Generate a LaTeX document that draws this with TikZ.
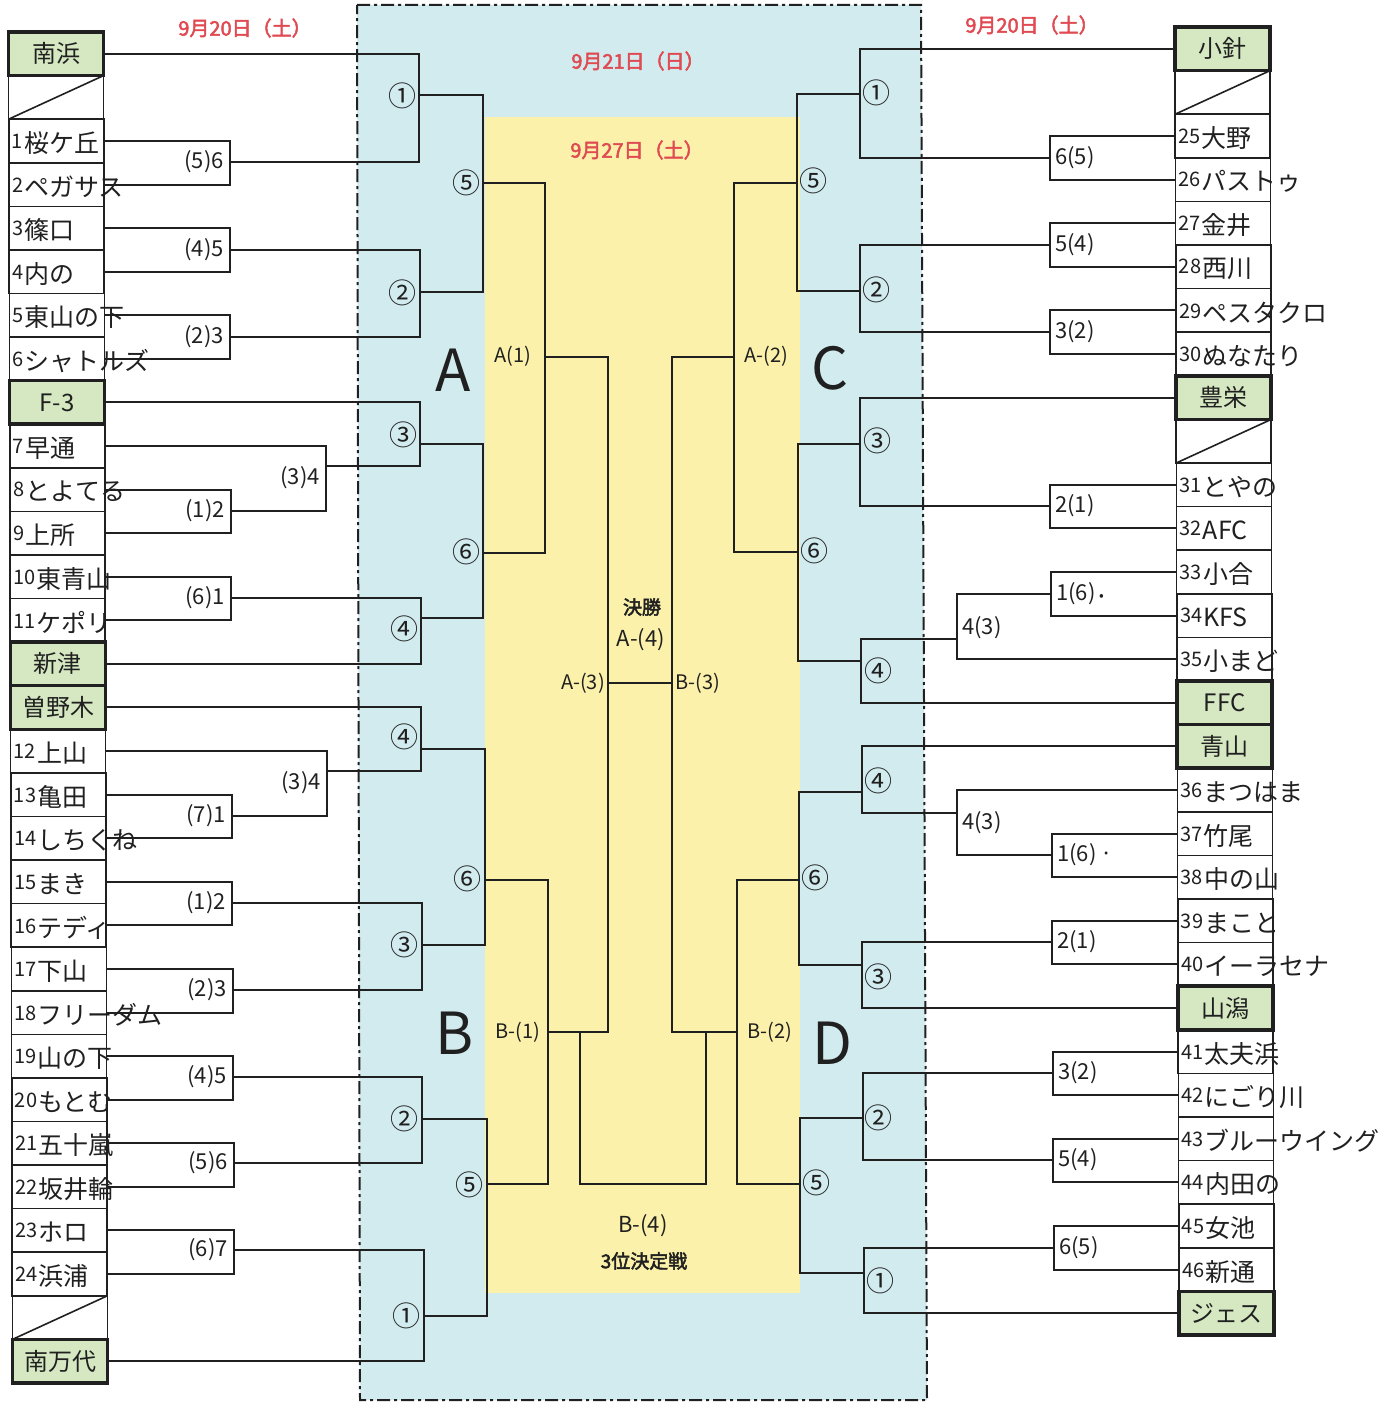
\documentclass[tikz,border=0pt]{standalone}
\usepackage{fontspec}
\usepackage{graphicx}
\setmainfont{Noto Sans CJK JP}
\newfontfamily\jpb[FakeBold=2.5]{Noto Sans CJK JP}
\usetikzlibrary{calc}
\definecolor{bluebg}{HTML}{D2EBEE}
\definecolor{yellowbg}{HTML}{FBF1AA}
\definecolor{greencell}{HTML}{D5E8C2}
\definecolor{datered}{HTML}{E04A52}
\definecolor{ink}{HTML}{202020}
\newcommand\fs[1]{\fontsize{#1}{#1}\selectfont}
\newcommand\tmn[2]{\raisebox{4pt}{\fs{20}#1}\hspace{1pt}{\fs{25}#2}}
\begin{document}
\begin{tikzpicture}[x=1pt,y=-1pt,
  brk/.style={draw=ink,line width=2pt},
  cellbox/.style={draw=ink,line width=1.6pt,minimum width=95pt,minimum height=43.6pt,inner sep=0pt,outer sep=0pt},
  greenbox/.style={cellbox,fill=greencell,line width=3.5pt,font=\fs{24},text=ink},
  circlab/.style={inner sep=0pt,font=\fs{28},text=ink},
  pairlab/.style={inner sep=0pt,font=\fs{22},text=ink},
  datelab/.style={inner sep=0pt,font=\jpb\fs{20},text=datered},
  biglab/.style={inner sep=0pt,font=\fs{58},text=ink},
  midlab/.style={inner sep=0pt,font=\fs{20},text=ink},
  hwlab/.style={inner sep=0pt,anchor=west,text=ink},
]
\useasboundingbox (0,0) rectangle (1399,1402);
% backgrounds
\fill[bluebg] (357,5) -- (921,5) -- (927,1400) -- (360,1400) -- cycle;
\draw[ink,line width=2pt,dash pattern=on 13pt off 4pt on 3pt off 4pt] (357,5) -- (921,5) -- (927,1400) -- (360,1400) -- cycle;
\fill[yellowbg] (485,117) rectangle (800,1293);

% dates
\node[datelab] (d20l) at (245,28) {9月20日（土）};
\node[datelab] (d20r) at (1032,25) {9月20日（土）};
\node[datelab] (d21) at (638,61) {9月21日（日）};
\node[datelab] (d27) at (637,150) {9月27日（土）};

% ---------- coordinates (left) ----------
\coordinate (pa1) at (230,162);
\coordinate (pa2) at (230,250);
\coordinate (pa3) at (230,337);
\coordinate (pa4) at (231,511);
\coordinate (qa1) at (326,466);
\coordinate (pa5) at (231,598);
\coordinate (ra1) at (419,95);
\coordinate (ra2) at (420,292);
\coordinate (ra3) at (420,444);
\coordinate (ra4) at (421,618);
\coordinate (sa5) at (483,183);
\coordinate (sa6) at (483,553);
\coordinate (tA) at (545,357);
\coordinate (pb1) at (232,816);
\coordinate (qb1) at (327,771);
\coordinate (rb4) at (421,749);
\coordinate (pb2) at (232,903);
\coordinate (pb3) at (233,990);
\coordinate (rb3) at (422,945);
\coordinate (sb6) at (485,880);
\coordinate (pb4) at (233,1077);
\coordinate (pb5) at (234,1163);
\coordinate (rb2) at (422,1119);
\coordinate (pb6) at (234,1250);
\coordinate (rb1) at (424,1316);
\coordinate (sb5) at (487,1184);
\coordinate (tB) at (548,1032);
% ---------- coordinates (right) ----------
\coordinate (pc1) at (1050,158);
\coordinate (pc2) at (1050,245);
\coordinate (pc3) at (1050,332);
\coordinate (pc4) at (1050,506);
\coordinate (pc5) at (1051,594);
\coordinate (qc1) at (957,639);
\coordinate (rc1) at (860,94);
\coordinate (rc2) at (860,291);
\coordinate (rc3) at (860,444);
\coordinate (rc4) at (861,661);
\coordinate (sc5) at (797,183);
\coordinate (sc6) at (798,552);
\coordinate (tC) at (734,357);
\coordinate (pd1) at (1052,855);
\coordinate (qd1) at (957,813);
\coordinate (rd4) at (862,792);
\coordinate (pd2) at (1052,942);
\coordinate (rd3) at (862,965);
\coordinate (sd6) at (799,880);
\coordinate (pd3) at (1053,1073);
\coordinate (pd4) at (1053,1160);
\coordinate (rd2) at (863,1118);
\coordinate (pd5) at (1054,1248);
\coordinate (rd1) at (864,1273);
\coordinate (sd5) at (800,1184);
\coordinate (tD) at (737,1032);
\coordinate (fL) at (608,683);
\coordinate (fR) at (672,683);
\coordinate (tp1) at (580,1032);
\coordinate (tp2) at (706,1032);
\coordinate (tpm) at (643,1184);

% ---------- cells ----------
\foreach \i in {0,...,30}{
  \pgfmathsetmacro\yy{32+43.58*(\i+0.5)}
  \pgfmathsetmacro\xx{56+4*\i/30}
  \node[cellbox] (L\i) at (\xx,\yy) {};
}
\foreach \i in {0,...,29}{
  \pgfmathsetmacro\yy{27+43.6*(\i+0.5)}
  \pgfmathsetmacro\xx{1222.5+4*\i/29}
  \node[cellbox] (R\i) at (\xx,\yy) {};
}

% ---------- brackets left A ----------
\draw[brk] (L2.east) -| (pa1) |- (L3.east);
\draw[brk] (L4.east) -| (pa2) |- (L5.east);
\draw[brk] (L6.east) -| (pa3) |- (L7.east);
\draw[brk] (L10.east) -| (pa4) |- (L11.east);
\draw[brk] (L9.east) -| (qa1) |- (pa4);
\draw[brk] (L12.east) -| (pa5) |- (L13.east);
\draw[brk] (L0.east) -| (ra1) |- (pa1);
\draw[brk] (pa2) -| (ra2) |- (pa3);
\draw[brk] (L8.east) -| (ra3) |- (qa1);
\draw[brk] (pa5) -| (ra4) |- (L14.east);
\draw[brk] (ra1) -| (sa5) |- (ra2);
\draw[brk] (ra3) -| (sa6) |- (ra4);
\draw[brk] (sa5) -| (tA) |- (sa6);
% left B
\draw[brk] (L17.east) -| (pb1) |- (L18.east);
\draw[brk] (L16.east) -| (qb1) |- (pb1);
\draw[brk] (L15.east) -| (rb4) |- (qb1);
\draw[brk] (L19.east) -| (pb2) |- (L20.east);
\draw[brk] (L21.east) -| (pb3) |- (L22.east);
\draw[brk] (pb2) -| (rb3) |- (pb3);
\draw[brk] (rb4) -| (sb6) |- (rb3);
\draw[brk] (L23.east) -| (pb4) |- (L24.east);
\draw[brk] (L25.east) -| (pb5) |- (L26.east);
\draw[brk] (pb4) -| (rb2) |- (pb5);
\draw[brk] (L27.east) -| (pb6) |- (L28.east);
\draw[brk] (pb6) -| (rb1) |- (L30.east);
\draw[brk] (rb2) -| (sb5) |- (rb1);
\draw[brk] (sb6) -| (tB) |- (sb5);
% right C
\draw[brk] (R2.west) -| (pc1) |- (R3.west);
\draw[brk] (R4.west) -| (pc2) |- (R5.west);
\draw[brk] (R6.west) -| (pc3) |- (R7.west);
\draw[brk] (R10.west) -| (pc4) |- (R11.west);
\draw[brk] (R12.west) -| (pc5) |- (R13.west);
\draw[brk] (pc5) -| (qc1) |- (R14.west);
\draw[brk] (R0.west) -| (rc1) |- (pc1);
\draw[brk] (pc2) -| (rc2) |- (pc3);
\draw[brk] (R8.west) -| (rc3) |- (pc4);
\draw[brk] (qc1) -| (rc4) |- (R15.west);
\draw[brk] (rc1) -| (sc5) |- (rc2);
\draw[brk] (rc3) -| (sc6) |- (rc4);
\draw[brk] (sc5) -| (tC) |- (sc6);
% right D
\draw[brk] (R18.west) -| (pd1) |- (R19.west);
\draw[brk] (R17.west) -| (qd1) |- (pd1);
\draw[brk] (R16.west) -| (rd4) |- (qd1);
\draw[brk] (R20.west) -| (pd2) |- (R21.west);
\draw[brk] (pd2) -| (rd3) |- (R22.west);
\draw[brk] (rd4) -| (sd6) |- (rd3);
\draw[brk] (R23.west) -| (pd3) |- (R24.west);
\draw[brk] (R25.west) -| (pd4) |- (R26.west);
\draw[brk] (pd3) -| (rd2) |- (pd4);
\draw[brk] (R27.west) -| (pd5) |- (R28.west);
\draw[brk] (pd5) -| (rd1) |- (R29.west);
\draw[brk] (rd2) -| (sd5) |- (rd1);
\draw[brk] (sd6) -| (tD) |- (sd5);
% finals
\draw[brk] (tA) -| (fL) |- (tB);
\draw[brk] (tC) -| (fR) |- (tD);
\draw[brk] (fL) -- (fR);
\draw[brk] (tp1) |- (tpm) -| (tp2);

% redraw cells on top of line ends
\foreach \i in {0,...,30}{ \draw[ink,line width=1.6pt] (L\i.south west) rectangle (L\i.north east); }
\foreach \i in {0,...,29}{ \draw[ink,line width=1.6pt] (R\i.south west) rectangle (R\i.north east); }
\draw[ink,line width=1.6pt] (L1.south west) -- (L1.north east);
\draw[ink,line width=1.6pt] (L29.south west) -- (L29.north east);
\draw[ink,line width=1.6pt] (R1.south west) -- (R1.north east);
\draw[ink,line width=1.6pt] (R9.south west) -- (R9.north east);

% green seeded cells
\node[greenbox] (gminamihama) at (L0) {南浜};
\node[greenbox] (gf3) at (L8) {F-3};
\node[greenbox] (gshinzu) at (L14) {新津};
\node[greenbox] (gsonoki) at (L15) {曽野木};
\node[greenbox] (gminamibandai) at (L30) {南万代};
\node[greenbox] (gkobari) at (R0) {小針};
\node[greenbox] (ghoei) at (R8) {豊栄};
\node[greenbox] (gffc) at (R15) {FFC};
\node[greenbox] (gaoyama) at (R16) {青山};
\node[greenbox] (gsangata) at (R22) {山潟};
\node[greenbox] (gjes) at (R29) {ジェス};

% team names left
\node[hwlab] (n1) at ([xshift=3pt,yshift=-2pt]L2.west) {\tmn{1}{桜ケ丘}};
\node[hwlab] (n2) at ([xshift=3pt,yshift=-2pt]L3.west) {\tmn{2}{ペガサス}};
\node[hwlab] (n3) at ([xshift=3pt,yshift=-2pt]L4.west) {\tmn{3}{篠口}};
\node[hwlab] (n4) at ([xshift=3pt,yshift=-2pt]L5.west) {\tmn{4}{内の}};
\node[hwlab] (n5) at ([xshift=3pt,yshift=-2pt]L6.west) {\tmn{5}{東山の下}};
\node[hwlab] (n6) at ([xshift=3pt,yshift=-2pt]L7.west) {\tmn{6}{シャトルズ}};
\node[hwlab] (n7) at ([xshift=3pt,yshift=-2pt]L9.west) {\tmn{7}{早通}};
\node[hwlab] (n8) at ([xshift=3pt,yshift=-2pt]L10.west) {\tmn{8}{とよてる}};
\node[hwlab] (n9) at ([xshift=3pt,yshift=-2pt]L11.west) {\tmn{9}{上所}};
\node[hwlab] (n10) at ([xshift=3pt,yshift=-2pt]L12.west) {\tmn{10}{東青山}};
\node[hwlab] (n11) at ([xshift=3pt,yshift=-2pt]L13.west) {\tmn{11}{ケポリ}};
\node[hwlab] (n12) at ([xshift=3pt,yshift=-2pt]L16.west) {\tmn{12}{上山}};
\node[hwlab] (n13) at ([xshift=3pt,yshift=-2pt]L17.west) {\tmn{13}{亀田}};
\node[hwlab] (n14) at ([xshift=3pt,yshift=-2pt]L18.west) {\tmn{14}{しちくね}};
\node[hwlab] (n15) at ([xshift=3pt,yshift=-2pt]L19.west) {\tmn{15}{まき}};
\node[hwlab] (n16) at ([xshift=3pt,yshift=-2pt]L20.west) {\tmn{16}{テディ}};
\node[hwlab] (n17) at ([xshift=3pt,yshift=-2pt]L21.west) {\tmn{17}{下山}};
\node[hwlab] (n18) at ([xshift=3pt,yshift=-2pt]L22.west) {\tmn{18}{フリーダム}};
\node[hwlab] (n19) at ([xshift=3pt,yshift=-2pt]L23.west) {\tmn{19}{山の下}};
\node[hwlab] (n20) at ([xshift=3pt,yshift=-2pt]L24.west) {\tmn{20}{もとむ}};
\node[hwlab] (n21) at ([xshift=3pt,yshift=-2pt]L25.west) {\tmn{21}{五十嵐}};
\node[hwlab] (n22) at ([xshift=3pt,yshift=-2pt]L26.west) {\tmn{22}{坂井輪}};
\node[hwlab] (n23) at ([xshift=3pt,yshift=-2pt]L27.west) {\tmn{23}{ホロ}};
\node[hwlab] (n24) at ([xshift=3pt,yshift=-2pt]L28.west) {\tmn{24}{浜浦}};
% team names right
\node[hwlab] (n25) at ([xshift=3pt,yshift=-2pt]R2.west) {\tmn{25}{大野}};
\node[hwlab] (n26) at ([xshift=3pt,yshift=-2pt]R3.west) {\tmn{26}{パストゥ}};
\node[hwlab] (n27) at ([xshift=3pt,yshift=-2pt]R4.west) {\tmn{27}{金井}};
\node[hwlab] (n28) at ([xshift=3pt,yshift=-2pt]R5.west) {\tmn{28}{西川}};
\node[hwlab] (n29) at ([xshift=3pt,yshift=-2pt]R6.west) {\tmn{29}{ペスタクロ}};
\node[hwlab] (n30) at ([xshift=3pt,yshift=-2pt]R7.west) {\tmn{30}{ぬなたり}};
\node[hwlab] (n31) at ([xshift=3pt,yshift=-2pt]R10.west) {\tmn{31}{とやの}};
\node[hwlab] (n32) at ([xshift=3pt,yshift=-2pt]R11.west) {\tmn{32}{AFC}};
\node[hwlab] (n33) at ([xshift=3pt,yshift=-2pt]R12.west) {\tmn{33}{小合}};
\node[hwlab] (n34) at ([xshift=3pt,yshift=-2pt]R13.west) {\tmn{34}{KFS}};
\node[hwlab] (n35) at ([xshift=3pt,yshift=-2pt]R14.west) {\tmn{35}{小まど}};
\node[hwlab] (n36) at ([xshift=3pt,yshift=-2pt]R17.west) {\tmn{36}{まつはま}};
\node[hwlab] (n37) at ([xshift=3pt,yshift=-2pt]R18.west) {\tmn{37}{竹尾}};
\node[hwlab] (n38) at ([xshift=3pt,yshift=-2pt]R19.west) {\tmn{38}{中の山}};
\node[hwlab] (n39) at ([xshift=3pt,yshift=-2pt]R20.west) {\tmn{39}{まこと}};
\node[hwlab] (n40) at ([xshift=3pt,yshift=-2pt]R21.west) {\tmn{40}{イーラセナ}};
\node[hwlab] (n41) at ([xshift=3pt,yshift=-2pt]R23.west) {\tmn{41}{太夫浜}};
\node[hwlab] (n42) at ([xshift=3pt,yshift=-2pt]R24.west) {\tmn{42}{にごり川}};
\node[hwlab] (n43) at ([xshift=3pt,yshift=-2pt]R25.west) {\tmn{43}{ブルーウイング}};
\node[hwlab] (n44) at ([xshift=3pt,yshift=-2pt]R26.west) {\tmn{44}{内田の}};
\node[hwlab] (n45) at ([xshift=3pt,yshift=-2pt]R27.west) {\tmn{45}{女池}};
\node[hwlab] (n46) at ([xshift=3pt,yshift=-2pt]R28.west) {\tmn{46}{新通}};

% pair labels left
\node[pairlab,anchor=east] (la1) at ([xshift=-6pt]pa1) {(5)6};
\node[pairlab,anchor=east] (la2) at ([xshift=-6pt]pa2) {(4)5};
\node[pairlab,anchor=east] (la3) at ([xshift=-6pt]pa3) {(2)3};
\node[pairlab,anchor=east] (la4) at ([xshift=-6pt]pa4) {(1)2};
\node[pairlab,anchor=east] (la5) at (320,478) {(3)4};
\node[pairlab,anchor=east] (la6) at ([xshift=-6pt]pa5) {(6)1};
\node[pairlab,anchor=east] (lb1) at ([xshift=-6pt]pb1) {(7)1};
\node[pairlab,anchor=east] (lb2) at (321,783) {(3)4};
\node[pairlab,anchor=east] (lb3) at ([xshift=-6pt]pb2) {(1)2};
\node[pairlab,anchor=east] (lb4) at ([xshift=-6pt]pb3) {(2)3};
\node[pairlab,anchor=east] (lb5) at ([xshift=-6pt]pb4) {(4)5};
\node[pairlab,anchor=east] (lb6) at ([xshift=-6pt]pb5) {(5)6};
\node[pairlab,anchor=east] (lb7) at ([xshift=-6pt]pb6) {(6)7};
% pair labels right
\node[pairlab,anchor=west] (lc1) at ([xshift=5pt]pc1) {6(5)};
\node[pairlab,anchor=west] (lc2) at ([xshift=5pt]pc2) {5(4)};
\node[pairlab,anchor=west] (lc3) at ([xshift=5pt]pc3) {3(2)};
\node[pairlab,anchor=west] (lc4) at ([xshift=5pt]pc4) {2(1)};
\node[pairlab,anchor=west] (lc5) at ([xshift=5pt]pc5) {1(6)\,\fs{14}•};
\node[pairlab,anchor=west] (lc6) at (962,628) {4(3)};
\node[pairlab,anchor=west] (ld1) at (962,823) {4(3)};
\node[pairlab,anchor=west] (ld2) at ([xshift=5pt]pd1) {1(6)\,·};
\node[pairlab,anchor=west] (ld3) at ([xshift=5pt]pd2) {2(1)};
\node[pairlab,anchor=west] (ld4) at ([xshift=5pt]pd3) {3(2)};
\node[pairlab,anchor=west] (ld5) at ([xshift=5pt]pd4) {5(4)};
\node[pairlab,anchor=west] (ld6) at ([xshift=5pt]pd5) {6(5)};

% round numbers
\node[circlab] (ca1) at (402,96) {①};
\node[circlab] (ca2) at (402,293) {②};
\node[circlab] (ca3) at (403,435) {③};
\node[circlab] (ca4) at (404,629) {④};
\node[circlab] (ca5) at (466,183) {⑤};
\node[circlab] (ca6) at (466,552) {⑥};
\node[circlab] (cb4) at (404,737) {④};
\node[circlab] (cb3) at (404,945) {③};
\node[circlab] (cb6) at (467,879) {⑥};
\node[circlab] (cb2) at (404,1119) {②};
\node[circlab] (cb5) at (469,1185) {⑤};
\node[circlab] (cb1) at (406,1316) {①};
\node[circlab] (cc1) at (876,93) {①};
\node[circlab] (cc2) at (876,290) {②};
\node[circlab] (cc5) at (813,181) {⑤};
\node[circlab] (cc3) at (877,441) {③};
\node[circlab] (cc4) at (878,671) {④};
\node[circlab] (cc6) at (814,551) {⑥};
\node[circlab] (cd4) at (878,781) {④};
\node[circlab] (cd3) at (878,977) {③};
\node[circlab] (cd6) at (815,878) {⑥};
\node[circlab] (cd2) at (878,1118) {②};
\node[circlab] (cd5) at (816,1183) {⑤};
\node[circlab] (cd1) at (880,1281) {①};

% block letters
\node[biglab] (bA) at (453,370) {A};
\node[biglab] (bB) at (455,1033) {B};
\node[biglab] (bC) at (830,368) {C};
\node[biglab] (bD) at (832,1043) {D};

% center labels
\node[midlab] (mA1) at (513,356) {A(1)};
\node[midlab] (mA2) at (766,356) {A-(2)};
\node[midlab] (mB1) at (518,1032) {B-(1)};
\node[midlab] (mB2) at (770,1032) {B-(2)};
\node[midlab,anchor=east] (mA3) at (605,683) {A-(3)};
\node[midlab,anchor=west] (mB3) at (675,683) {B-(3)};
\node[midlab,font=\jpb\fs{19}] (mfin) at (642,607) {決勝};
\node[midlab,font=\fs{22}] (mA4) at (641,640) {A-(4)};
\node[midlab,font=\fs{22}] (mB4) at (643,1226) {B-(4)};
\node[midlab,font=\jpb\fs{19}] (m3rd) at (644,1261) {3位決定戦};
\end{tikzpicture}
\end{document}
